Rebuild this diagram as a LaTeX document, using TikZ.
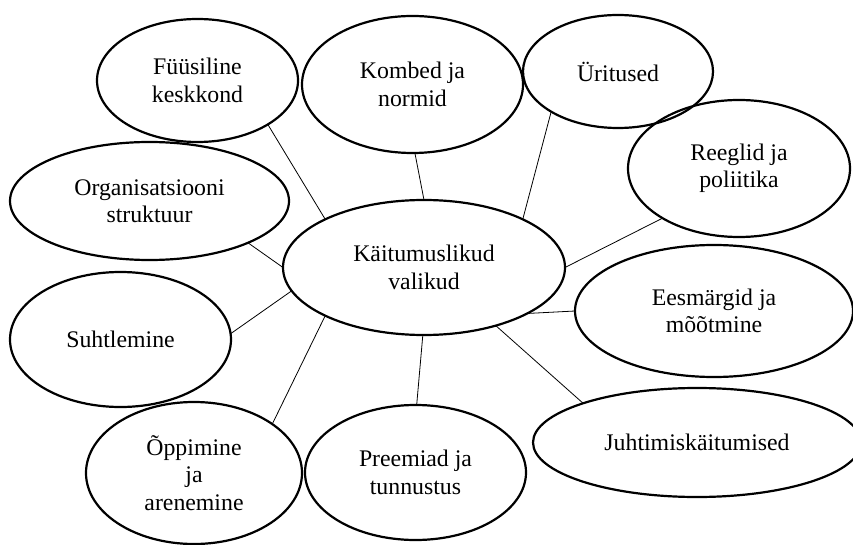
\documentclass[tikz,border=0pt]{standalone}
\usepackage{fontspec}
\setmainfont{Liberation Serif}
\usetikzlibrary{shapes.geometric}
\begin{document}
\begin{tikzpicture}[x=1pt,y=-1pt,
  bub/.style={ellipse, draw, line width=2.2pt, inner sep=0pt, outer sep=0pt, align=center,
    font=\fontsize{23.8}{27.5}\selectfont},
  link/.style={line width=0.8pt}]
\useasboundingbox (0,0) rectangle (853,545);
\node[bub, minimum width=282pt, minimum height=135pt] (c) at (424,267.5) {Käitumuslikud\\valikud};
\node[bub, minimum width=201pt, minimum height=123pt] (f) at (197.5,80.5) {Füüsiline\\keskkond};
\node[bub, minimum width=221pt, minimum height=137pt] (k) at (412.5,84.5) {Kombed ja\\normid};
\node[bub, minimum width=190pt, minimum height=113pt] (u) at (618,71.5) {Üritused};
\node[bub, minimum width=222pt, minimum height=137pt] (r) at (739,168.5) {Reeglid ja\\poliitika};
\node[bub, minimum width=279pt, minimum height=118pt] (o) at (149.5,201) {Organisatsiooni\\struktuur};
\node[bub, minimum width=221pt, minimum height=135pt] (s) at (120.5,339.5) {Suhtlemine};
\node[bub, minimum width=216pt, minimum height=142pt] (ol) at (194,473) {Õppimine\\ja\\arenemine};
\node[bub, minimum width=221pt, minimum height=135pt] (pr) at (415.5,472.5) {Preemiad ja\\tunnustus};
\node[bub, minimum width=278pt, minimum height=132pt] (e) at (714,311) {Eesmärgid ja\\mõõtmine};
\node[bub, minimum width=328pt, minimum height=109pt] (j) at (697,442.5) {Juhtimiskäitumised};
\draw[link] (f.-32.1) -- (c.154.1);
\draw[link] (k.-88.7) -- (c.90.8);
\draw[link] (o.-23.1) -- (c.180);
\draw[link] (u.211.8) -- (c.26.6);
\draw[link] (r.213) -- (c.0);
\draw[link] (s.3.3) -- (c.190.8);
\draw[link] (ol.32.8) -- (c.206.3);
\draw[link] (pr.89.6) -- (c.269);
\draw[link] (e.180.8) -- (c.-24.8);
\draw[link] (j.161.2) -- (c.-39.8);
\end{tikzpicture}
\end{document}
